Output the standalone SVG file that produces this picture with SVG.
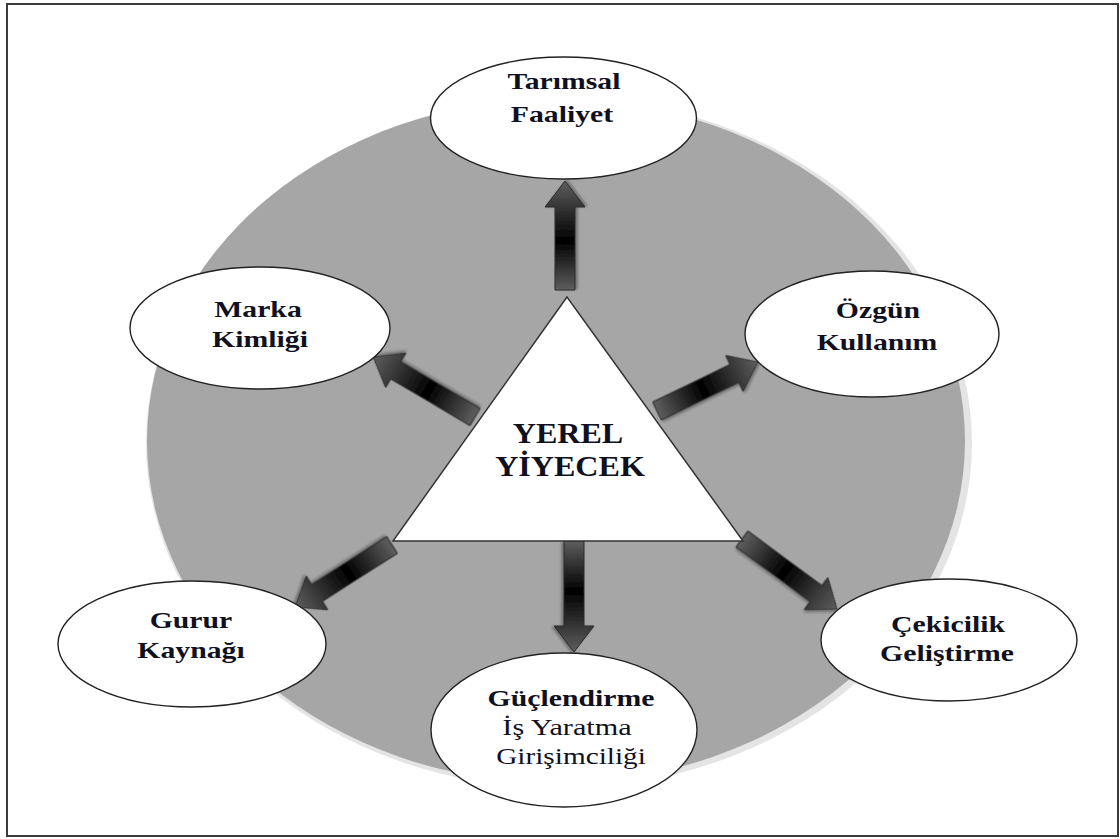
<svg xmlns="http://www.w3.org/2000/svg" width="1120" height="839" viewBox="0 0 1120 839">
<defs>
<linearGradient id="ag" x1="0" y1="0" x2="1" y2="0">
<stop offset="0" stop-color="#5e5e5e"/>
<stop offset="0.45" stop-color="#000"/>
<stop offset="1" stop-color="#5e5e5e"/>
</linearGradient>
<filter id="sh" x="-20%" y="-20%" width="140%" height="140%">
<feGaussianBlur in="SourceAlpha" stdDeviation="1.5"/>
<feOffset dx="1" dy="2" result="b"/>
<feComponentTransfer><feFuncA type="linear" slope="0.35"/></feComponentTransfer>
<feMerge><feMergeNode/><feMergeNode in="SourceGraphic"/></feMerge>
</filter>
</defs>
<style>
.node{fill:#fff;stroke:#222;stroke-width:1.4}
.t{font-family:"Liberation Serif","Times New Roman",serif;font-size:24px;font-weight:bold;fill:#10101e;text-anchor:middle}
.n{font-weight:normal}
.big{font-size:30px}
.arrow{fill:url(#ag);stroke:#2a2a2a;stroke-width:1;filter:url(#sh)}
</style>
<rect x="7" y="4" width="1111" height="832" fill="#fff" stroke="#3a3a3a" stroke-width="2"/>
<g id="background">
<ellipse cx="559" cy="443" rx="413" ry="345" fill="#e4e4e4"/>
<ellipse cx="556" cy="441" rx="409" ry="342" fill="#a6a6a6"/>
</g>
<g id="connectors">
<path class="arrow" d="M0,-10 L83,-10 L83,-20 L109,0 L83,20 L83,10 L0,10 Z" transform="translate(565,290) rotate(-90)"/>
<path class="arrow" d="M0,-10 L85,-10 L85,-20 L111,0 L85,20 L85,10 L0,10 Z" transform="translate(574,541) rotate(90)"/>
<path class="arrow" d="M0,-10 L92,-10 L92,-20 L118,0 L92,20 L92,10 L0,10 Z" transform="translate(475,417) rotate(210.5)"/>
<path class="arrow" d="M0,-10 L86,-10 L86,-20 L112,0 L86,20 L86,10 L0,10 Z" transform="translate(657,411) rotate(-25.9)"/>
<path class="arrow" d="M0,-10 L89,-10 L89,-20 L115,0 L89,20 L89,10 L0,10 Z" transform="translate(392,545) rotate(147.4)"/>
<path class="arrow" d="M0,-10 L92,-10 L92,-20 L118,0 L92,20 L92,10 L0,10 Z" transform="translate(742,539) rotate(36.4)"/>
</g>
<g id="center">
<polygon points="567,297 393,541 743,541" fill="#fff" stroke="#333" stroke-width="1.5"/>
<text class="t big" transform="translate(568,443) scale(1.07,1)">YEREL</text>
<text class="t big" transform="translate(570,476) scale(1.07,1)">YİYECEK</text>
</g>
<g id="tarimsal">
<ellipse class="node" cx="563.5" cy="118" rx="133" ry="61"/>
<text class="t" transform="translate(564,89) scale(1.24,1)">Tarımsal</text>
<text class="t" transform="translate(562,122) scale(1.24,1)">Faaliyet</text>
</g>
<g id="marka">
<ellipse class="node" cx="260" cy="328" rx="130" ry="61"/>
<text class="t" transform="translate(258,317) scale(1.24,1)">Marka</text>
<text class="t" transform="translate(260,347) scale(1.24,1)">Kimliği</text>
</g>
<g id="ozgun">
<ellipse class="node" cx="872" cy="334" rx="127" ry="63"/>
<text class="t" transform="translate(878,318) scale(1.24,1)">Özgün</text>
<text class="t" transform="translate(877,350) scale(1.24,1)">Kullanım</text>
</g>
<g id="gurur">
<ellipse class="node" cx="192" cy="644" rx="134" ry="63"/>
<text class="t" transform="translate(191,628) scale(1.24,1)">Gurur</text>
<text class="t" transform="translate(191,658) scale(1.24,1)">Kaynağı</text>
</g>
<g id="cekicilik">
<ellipse class="node" cx="949" cy="640" rx="128" ry="61"/>
<text class="t" transform="translate(948,632) scale(1.24,1)">Çekicilik</text>
<text class="t" transform="translate(947,661) scale(1.24,1)">Geliştirme</text>
</g>
<g id="guclendirme">
<ellipse class="node" cx="564" cy="730" rx="133" ry="77"/>
<text class="t" transform="translate(571,706) scale(1.24,1)">Güçlendirme</text>
<text class="t n" transform="translate(567,735) scale(1.26,1)">İş Yaratma</text>
<text class="t n" transform="translate(571,764) scale(1.22,1)">Girişimciliği</text>
</g>
</svg>
